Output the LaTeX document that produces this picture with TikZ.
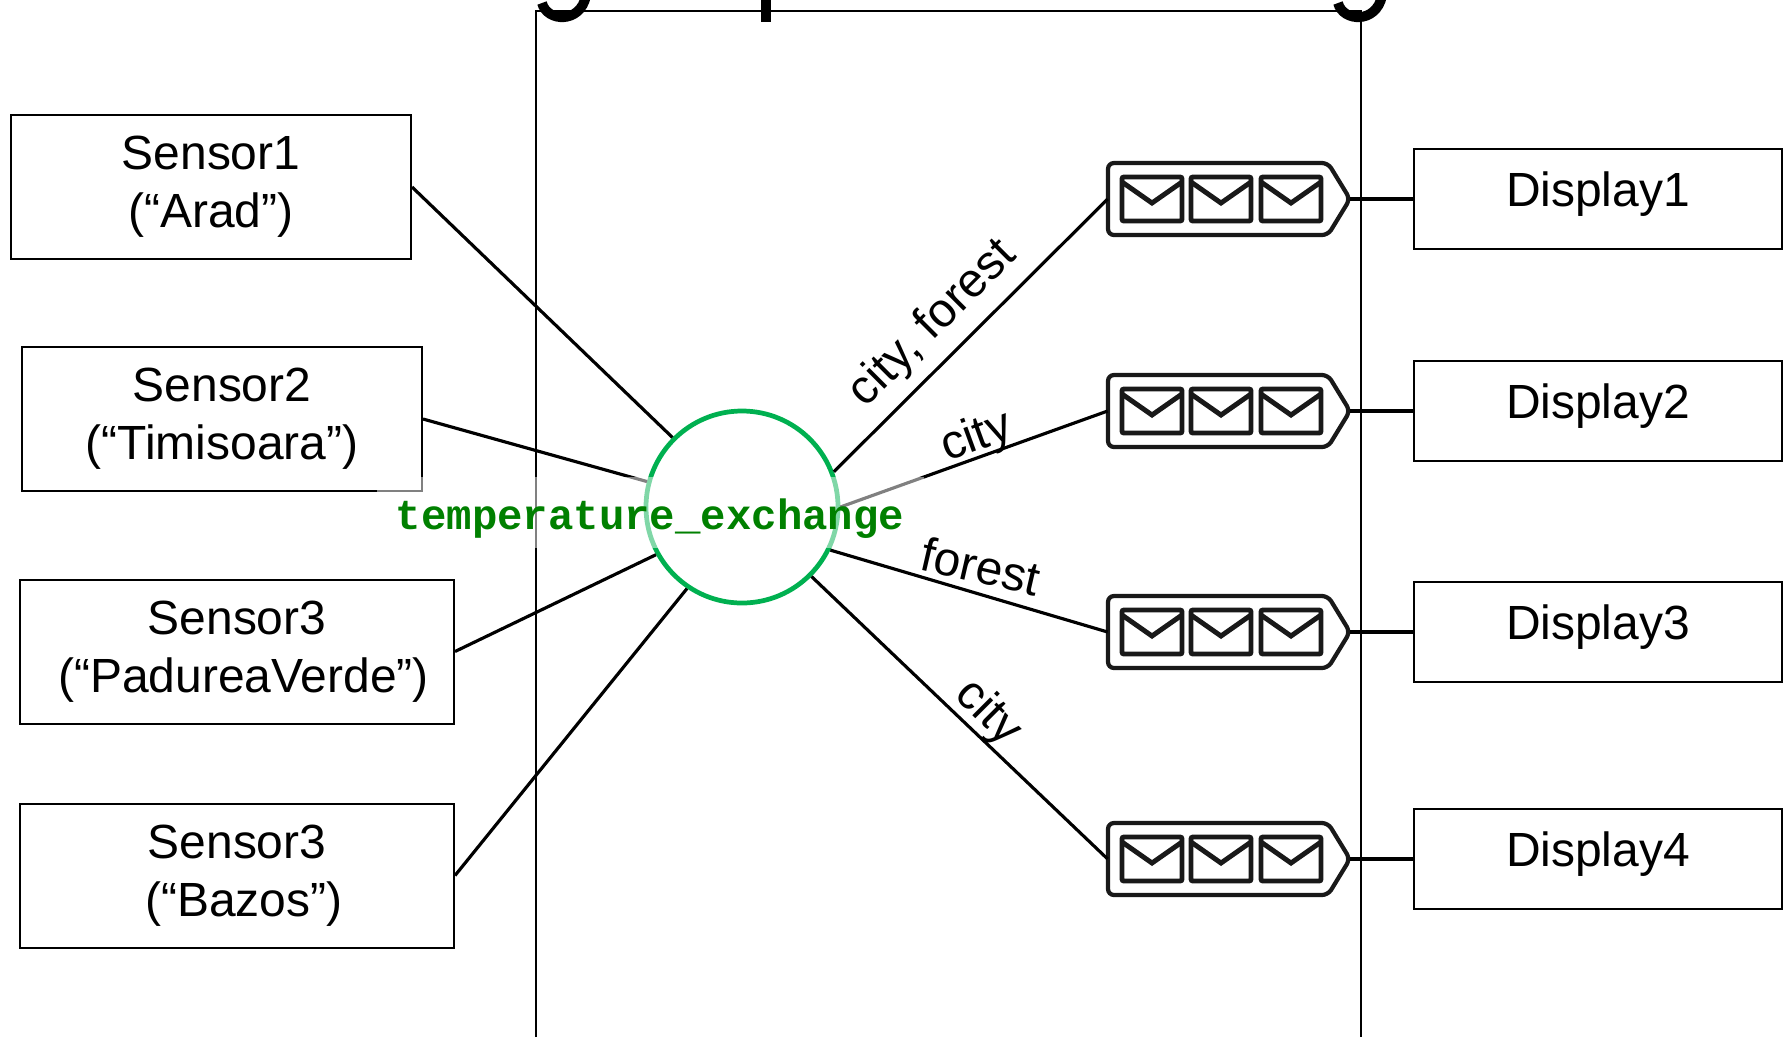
\documentclass[tikz,border=0pt]{standalone}
\usepackage{fontspec}
\setmainfont{Liberation Sans}
\newfontfamily\exchfont{Liberation Mono}[BoldFont={Liberation Mono Bold}]
\usetikzlibrary{positioning, calc}
\definecolor{exchgreen}{HTML}{00B050}
\definecolor{exchtext}{HTML}{008000}

% Message queue: outline with three envelopes
\newcommand{\msgqueue}[2]{
  \node[queuebox] (#1) at #2 {};
  \begin{scope}[shift={#2}]
    \draw[queueline, rounded corners=0.12cm] (99,-36) -- (-121,-36) -- (-121,36) -- (99,36) -- (121,0) -- cycle;
    \foreach \ex in {-77,-8,62} {
      \draw[envline, rounded corners=0.04cm] (\ex-30,-22) rectangle (\ex+30,22);
      \draw[envline] (\ex-30,-17) -- (\ex,4) -- (\ex+30,-17);
    }
  \end{scope}
}

\begin{document}
\begin{tikzpicture}[
  x=0.2mm, y=-0.2mm,
  font=\fontsize{27.3}{33}\selectfont,
  % Box styles
  sensorbox/.style={draw, rectangle, align=center, inner sep=0pt, minimum height=2.88cm, line width=1.15pt, execute at begin node={\rule{0pt}{0.82cm}}},
  displaybox/.style={draw, rectangle, inner sep=0pt, minimum width=7.36cm, minimum height=2cm, text height=0.7cm, text depth=0.42cm, line width=1.1pt},
  queuebox/.style={rectangle, inner sep=0pt, minimum width=4.84cm, minimum height=1.44cm},
  queueline/.style={draw, line width=2.4pt, black!90},
  envline/.style={draw, line width=2.8pt, black!90},
  exchcircle/.style={draw=exchgreen, circle, inner sep=0pt, minimum size=3.84cm, line width=2.7pt},
  exchlabel/.style={fill=white, fill opacity=0.5, text opacity=1, inner sep=0pt, minimum width=10.94cm, minimum height=1.42cm, text height=0.9cm, text depth=0.22cm, text=exchtext, font=\exchfont\bfseries\fontsize{24.1}{28}\selectfont},
  % Line styles
  framedraw/.style={draw, line width=1.1pt},
  line/.style={draw, line width=1.8pt},
  outline/.style={draw, line width=2.2pt},
  keylabel/.style={inner sep=0pt}
]

  \useasboundingbox (0,0) rectangle (1789,1037);

  % ==========================================
  % CLIPPED TITLE REMAINS
  % ==========================================
  \begin{scope}
    \clip (0,0) rectangle (1789,1037);
    \draw[line width=5.6pt] (542,3) .. controls (547,22) and (580,24) .. (586,-4);
    \fill (761,-2) rectangle (771,22);
    \draw[line width=5.6pt] (1338,3) .. controls (1343,22) and (1376,24) .. (1382,-4);
  \end{scope}

  % ==========================================
  % BROKER FRAME
  % ==========================================
  \coordinate (frame_nw) at (536,11);
  \coordinate (frame_ne) at (1361,11);
  \coordinate (frame_sw) at (536,1037);
  \coordinate (frame_se) at (1361,1037);
  \draw[framedraw] (frame_sw) -- (frame_nw) -- (frame_ne) -- (frame_se);

  % ==========================================
  % SENSORS
  % ==========================================
  \node[sensorbox, minimum width=8cm] (s1) at (211,187) {Sensor1\\(“Arad”)};
  \node[sensorbox, minimum width=8cm] (s2) at (222,419) {Sensor2\\(“Timisoara”)};
  \node[sensorbox, minimum width=8.68cm] (s3) at (237,651.5) {Sensor3\\\hspace*{0.278em}(“PadureaVerde”)};
  \node[sensorbox, minimum width=8.68cm] (s4) at (237,875.5) {Sensor3\\\hspace*{0.278em}(“Bazos”)};

  % ==========================================
  % EXCHANGE
  % ==========================================
  \node[exchcircle] (exch) at (742,507) {};

  % ==========================================
  % QUEUES AND DISPLAYS
  % ==========================================
  \msgqueue{q1}{(1229,199)}
  \msgqueue{q2}{(1229,411)}
  \msgqueue{q3}{(1229,632)}
  \msgqueue{q4}{(1229,859)}

  \node[displaybox] (d1) at (1598,199) {Display1};
  \node[displaybox] (d2) at (1598,411) {Display2};
  \node[displaybox] (d3) at (1598,632) {Display3};
  \node[displaybox] (d4) at (1598,859) {Display4};

  \draw[outline] (q1.east) -- (d1.west);
  \draw[outline] (q2.east) -- (d2.west);
  \draw[outline] (q3.east) -- (d3.west);
  \draw[outline] (q4.east) -- (d4.west);

  % Sensors to exchange
  \draw[line] (s1.east) -- (exch.135);
  \draw[line] (s2.east) -- (exch.165);
  \draw[line] (s3.east) -- (exch.209);
  \draw[line] (s4.east) -- (exch.236);

  % Exchange to queues
  \draw[line] (exch.21) -- (q1.west);
  \draw[line] (exch.0) -- (q2.west);
  \draw[line] (exch.-26) -- (q3.west);
  \draw[line] (exch.-45) -- (q4.west);

  % Routing keys
  \node[keylabel, rotate=45] (k1) at (933,324) {city, forest};
  \node[keylabel, rotate=20] (k2) at (977,438) {city};
  \node[keylabel, rotate=-13] (k3) at (981,566) {forest};
  \node[keylabel, rotate=-45] (k4) at (988,713) {city};

  % Exchange name, on top of everything
  \node[exchlabel] (exch_name) at (650,512) {temperature\_exchange};

\end{tikzpicture}
\end{document}
